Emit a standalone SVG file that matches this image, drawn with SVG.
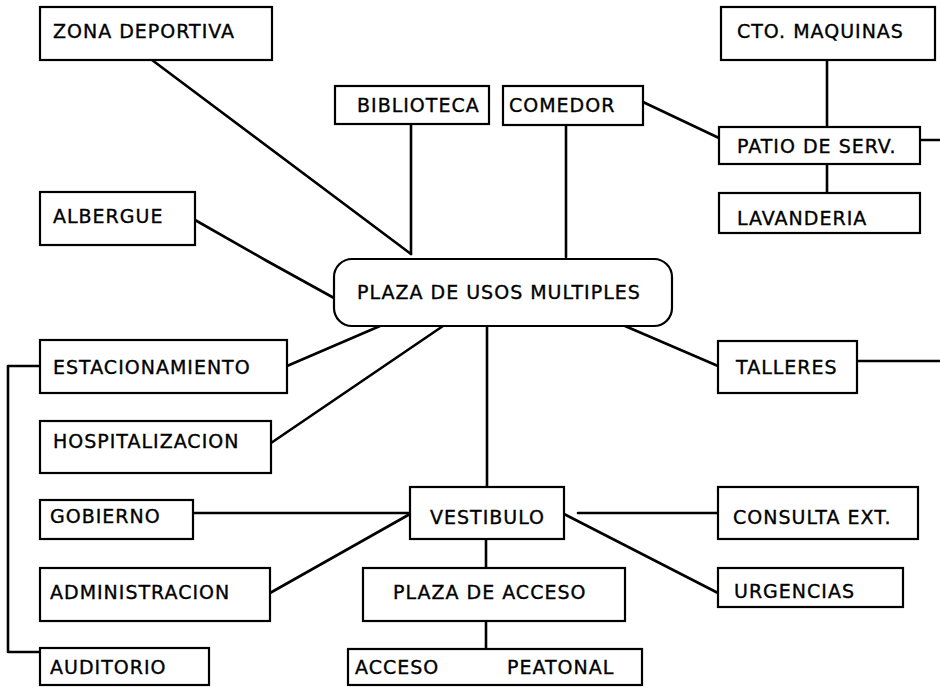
<svg xmlns="http://www.w3.org/2000/svg" width="940" height="687" viewBox="0 0 940 687">
<style>
.box{fill:#fff;stroke:#000;stroke-width:2.2}
.lbl{font-family:"DejaVu Sans","Liberation Sans",sans-serif;font-size:19px;letter-spacing:1px;fill:#000;stroke:#000;stroke-width:0.35}
.con{stroke:#000;stroke-width:2.6;fill:none;stroke-linecap:round;stroke-linejoin:round}
</style>
<rect width="940" height="687" fill="#fff"/>
<g id="connectors">
<line class="con" x1="152" y1="60" x2="411" y2="254"/>
<line class="con" x1="411" y1="124" x2="411" y2="254"/>
<line class="con" x1="566" y1="125" x2="566" y2="257"/>
<line class="con" x1="643" y1="102" x2="719" y2="138"/>
<line class="con" x1="827" y1="60" x2="827" y2="127"/>
<line class="con" x1="827" y1="164" x2="827" y2="193"/>
<line class="con" x1="920" y1="140" x2="940" y2="140"/>
<polyline class="con" points="195,220 267,261 334,298"/>
<line class="con" x1="287" y1="366" x2="380" y2="326"/>
<line class="con" x1="271" y1="443" x2="443" y2="326"/>
<line class="con" x1="625" y1="326" x2="718" y2="366"/>
<line class="con" x1="857" y1="361" x2="940" y2="361"/>
<line class="con" x1="487" y1="326" x2="487" y2="487"/>
<line class="con" x1="193" y1="513" x2="410" y2="513"/>
<line class="con" x1="270" y1="593" x2="410" y2="514"/>
<line class="con" x1="578" y1="513" x2="718" y2="513"/>
<line class="con" x1="564" y1="514" x2="718" y2="593"/>
<line class="con" x1="486" y1="539" x2="486" y2="568"/>
<line class="con" x1="486" y1="621" x2="486" y2="649"/>
<polyline class="con" points="40,366 8,366 8,652 40,652"/>
</g>
<g id="zona-deportiva"><rect class="box" x="40" y="7" width="232" height="53"/><text class="lbl" x="53" y="38">ZONA DEPORTIVA</text></g>
<g id="biblioteca"><rect class="box" x="335" y="86" width="154" height="38"/><text class="lbl" x="357" y="112">BIBLIOTECA</text></g>
<g id="comedor"><rect class="box" x="503" y="86" width="140" height="39"/><text class="lbl" x="509" y="112">COMEDOR</text></g>
<g id="cto-maquinas"><rect class="box" x="721" y="7" width="214" height="53"/><text class="lbl" x="737" y="38">CTO. MAQUINAS</text></g>
<g id="patio-serv"><rect class="box" x="719" y="127" width="201" height="37"/><text class="lbl" x="737" y="153">PATIO DE SERV.</text></g>
<g id="lavanderia"><rect class="box" x="719" y="193" width="201" height="40"/><text class="lbl" x="737" y="225">LAVANDERIA</text></g>
<g id="albergue"><rect class="box" x="40" y="192" width="155" height="53"/><text class="lbl" x="53" y="223">ALBERGUE</text></g>
<g id="plaza-usos-multiples"><rect class="box" x="334" y="259" width="338" height="67" rx="18" ry="18"/><text class="lbl" x="357" y="299">PLAZA DE USOS MULTIPLES</text></g>
<g id="estacionamiento"><rect class="box" x="40" y="340" width="247" height="53"/><text class="lbl" x="53" y="374">ESTACIONAMIENTO</text></g>
<g id="hospitalizacion"><rect class="box" x="40" y="421" width="231" height="52"/><text class="lbl" x="53" y="448">HOSPITALIZACION</text></g>
<g id="talleres"><rect class="box" x="718" y="341" width="139" height="52"/><text class="lbl" x="736" y="374">TALLERES</text></g>
<g id="gobierno"><rect class="box" x="40" y="500" width="153" height="39"/><text class="lbl" x="50" y="523">GOBIERNO</text></g>
<g id="vestibulo"><rect class="box" x="410" y="487" width="154" height="52"/><text class="lbl" x="430" y="524">VESTIBULO</text></g>
<g id="consulta-ext"><rect class="box" x="718" y="487" width="200" height="52"/><text class="lbl" x="733" y="524">CONSULTA EXT.</text></g>
<g id="administracion"><rect class="box" x="40" y="568" width="230" height="53"/><text class="lbl" x="50" y="599">ADMINISTRACION</text></g>
<g id="plaza-acceso"><rect class="box" x="363" y="568" width="262" height="53"/><text class="lbl" x="393" y="599">PLAZA DE ACCESO</text></g>
<g id="urgencias"><rect class="box" x="718" y="568" width="185" height="39"/><text class="lbl" x="734" y="598">URGENCIAS</text></g>
<g id="auditorio"><rect class="box" x="40" y="648" width="169" height="37"/><text class="lbl" x="50" y="674">AUDITORIO</text></g>
<g id="acceso-peatonal"><rect class="box" x="348" y="649" width="294" height="36"/><text class="lbl" y="674"><tspan x="355">ACCESO</tspan><tspan x="507">PEATONAL</tspan></text></g>
</svg>
